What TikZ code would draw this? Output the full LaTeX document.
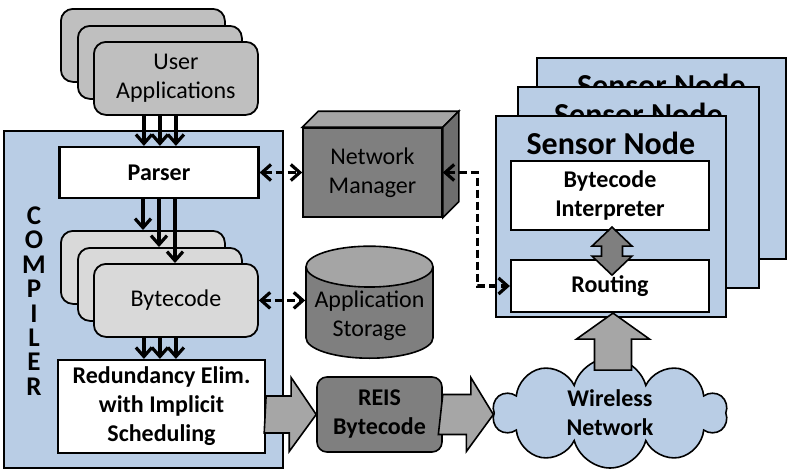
\documentclass[tikz,border=0pt]{standalone}
\usepackage{fontspec}
\setmainfont{Carlito}
\usetikzlibrary{arrows.meta,shapes.geometric,shapes.symbols,calc}

\definecolor{paleblue}{HTML}{B9CDE5}
\definecolor{appgray}{HTML}{BFBFBF}
\definecolor{codegray}{HTML}{D9D9D9}
\definecolor{boxdark}{HTML}{7F7F7F}
\definecolor{topgray}{HTML}{A5A5A5}
\definecolor{sidegray}{HTML}{6E6E6E}
\definecolor{arrowgray}{HTML}{A6A6A6}

\begin{document}
\begin{tikzpicture}[x=1pt,y=-1pt,
  every node/.style={font=\fontsize{24}{29}\selectfont, align=center},
  appbox/.style={draw, line width=1.8pt, rounded corners=12pt, fill=appgray, minimum width=164pt, minimum height=73pt, anchor=north west},
  codebox/.style={appbox, fill=codegray},
  whitebox/.style={draw, line width=2.2pt, fill=white, font=\fontsize{24}{29}\selectfont\bfseries},
  sensorbox/.style={draw, line width=1.6pt, fill=paleblue, minimum height=201pt, anchor=north west},
  flow/.style={-{Straight Barb[length=9pt,width=16pt]}, line width=3.2pt},
  link/.style={{Straight Barb[length=9pt,width=16pt]}-{Straight Barb[length=9pt,width=16pt]}, line width=3.2pt, dash pattern=on 8pt off 4pt},
  blockarrow/.style={draw, line width=1.6pt, fill=arrowgray, line join=miter}]
\useasboundingbox (0,0) rectangle (793,471);

\node[draw, line width=1.6pt, fill=paleblue, anchor=north west, minimum width=279pt, minimum height=337pt] (compiler) at (3,130) {};
\node[font=\fontsize{27}{24.4}\selectfont\bfseries] (complabel) at (34,301) {C\\O\\M\\P\\I\\L\\E\\R};

\node[appbox] (ua1) at (60,8) {};
\node[appbox] (ua2) at (77,25) {};
\node[appbox] (ua3) at (93,41) {User\\Applications};

\node[whitebox, minimum width=199pt, minimum height=51pt] (parser) at (159,172.5) {Parser};

\node[codebox] (bc1) at (60,230) {};
\node[codebox] (bc2) at (77,247) {};
\node[codebox] (bc3) at (93,263) {Bytecode};

\node[whitebox, minimum width=207pt, minimum height=93pt] (red) at (161.5,406.5) {Redundancy Elim.\\with Implicit\\Scheduling};

\foreach \dx in {-32,-16,0}
  \draw[flow] ([xshift=\dx pt]ua3.south) coordinate (s) -- (s |- parser.north);
\foreach \dx/\b in {-16/bc1,0/bc2,16/bc3}
  \draw[flow] ([xshift=\dx pt]parser.south) coordinate (s) -- (s |- \b.north);
\foreach \dx in {-32,-16,0}
  \draw[flow] ([xshift=\dx pt]bc3.south) coordinate (s) -- (s |- red.north);

\node[draw, line width=1.6pt, fill=boxdark, minimum width=139pt, minimum height=89pt] (nm) at (372.5,172.5) {Network\\Manager};
\draw[line width=1.6pt, fill=topgray] (nm.north west) -- ++(16,-16) -- ($(nm.north east)+(16,-16)$) -- (nm.north east) -- cycle;
\draw[line width=1.6pt, fill=sidegray] (nm.north east) -- ++(16,-16) -- ($(nm.south east)+(16,-16)$) -- (nm.south east) -- cycle;

\node[cylinder, shape border rotate=90, draw, line width=1.6pt, cylinder uses custom fill, cylinder body fill=boxdark, cylinder end fill=topgray, aspect=0.35, minimum width=127pt, minimum height=112pt, anchor=south] (store) at (369.5,359) {Application\\Storage};

\foreach \i/\x/\y/\w in {1/536/57/249, 2/517/86/241, 3/495/115/230} {
  \node[sensorbox, minimum width=\w pt] (sn\i) at (\x,\y) {};
  \node[font=\fontsize{32}{36}\selectfont\bfseries] (snt\i) at ($(sn\i.north)+(0,28)$) {Sensor Node};
}

\node[whitebox, minimum width=198pt, minimum height=69pt] (bi) at (610,195.5) {Bytecode\\Interpreter};
\node[whitebox, minimum width=198pt, minimum height=52pt] (routing) at (610,286) {Routing};

\draw[blockarrow, fill=boxdark] ($(bi.south)+(2,-4)$) -- ++(20,19) -- ++(-9.5,0) -- ++(0,10) -- ++(9.5,0) -- ++(-20,19) -- ++(-20,-19) -- ++(9.5,0) -- ++(0,-10) -- ++(-9.5,0) -- cycle;

\draw[link] (parser.east) -- (nm.west);
\draw[link] (bc3.east) -- (bc3.east -| store.west);
\draw[link] (nm.east) -- ++(35,0) |- (routing.west);

\node[draw, line width=1.6pt, rounded corners=10pt, fill=boxdark, minimum width=125pt, minimum height=75pt, font=\fontsize{24}{29}\selectfont\bfseries] (reis) at (379.5,414.5) {REIS\\Bytecode};

\node[cloud, cloud puffs=10, aspect=2.1, draw, line width=1.6pt, fill=paleblue, minimum width=234pt, minimum height=110pt, inner sep=0pt, font=\fontsize{24}{29}\selectfont\bfseries] (wifi) at (610,413) {Wireless\\Network};

\draw[blockarrow] (red.east |- reis.west) ++(0,-18.5) -- ++(25,0) -- ++(0,-18.5) -- (reis.west) -- ++(-27,37) -- ++(0,-18.5) -- ++(-25,0) -- cycle;
\draw[blockarrow] (reis.east) ++(0,-20) -- ++(28,0) -- ++(0,-17) -- (reis.east -| wifi.west) -- ++(-27,37) -- ++(0,-17) -- ++(-28,0) -- cycle;
\draw[blockarrow] ($(routing.south)+(3,0)$) -- ++(36.5,26) -- ++(-18,0) -- ++(0,31) -- ++(-37,0) -- ++(0,-31) -- ++(-18,0) -- cycle;
\end{tikzpicture}
\end{document}
